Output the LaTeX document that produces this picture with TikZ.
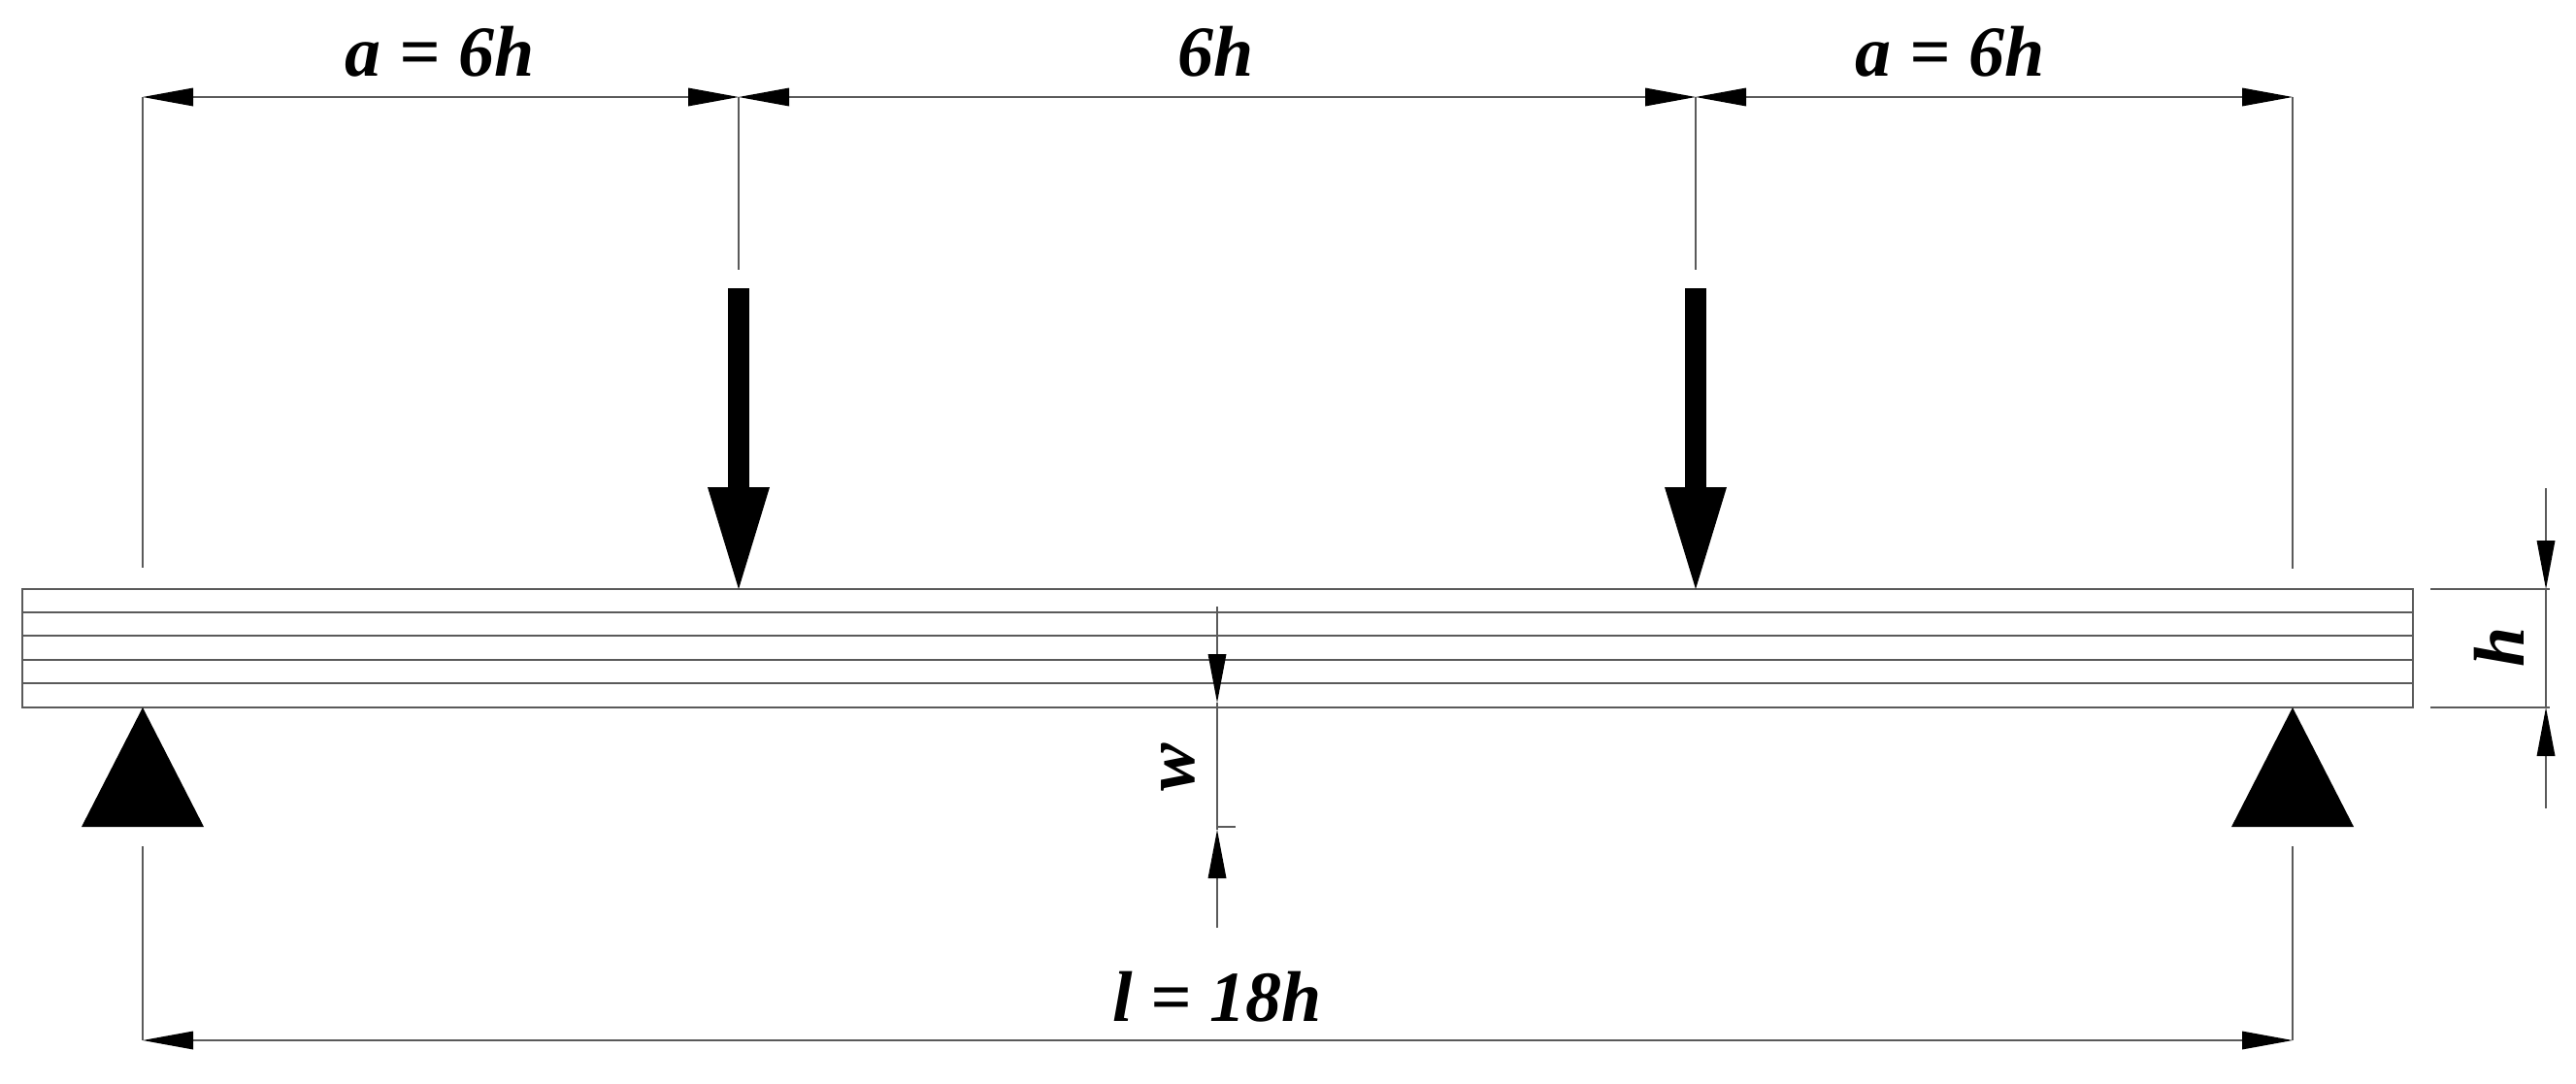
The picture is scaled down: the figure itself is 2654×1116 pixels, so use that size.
\documentclass[tikz,border=0pt]{standalone}
\usepackage{fontspec}
\setmainfont{Liberation Serif}
\usetikzlibrary{arrows.meta}
\definecolor{ln}{HTML}{5A5A5A}
\tikzset{
  thin line/.style={draw=ln,line width=2.6pt},
  dim/.style={thin line,{Triangle[length=52pt,width=19pt,line width=0pt,black]}-{Triangle[length=52pt,width=19pt,line width=0pt,black]}},
  tipend/.style={thin line,-{Triangle[length=50pt,width=19pt,line width=0pt,black]}},
  force/.style={line width=22pt,black,-{Triangle[length=105pt,width=64pt,line width=0pt,black]}},
  support/.style={fill=black,draw=none},
  lbl/.style={font=\fontsize{74}{74}\selectfont\bfseries\itshape,inner sep=0pt,anchor=base,text=black}
}
\begin{document}
\begin{tikzpicture}[x=1pt,y=-1pt]
\useasboundingbox (0,0) rectangle (2654,1116);
% key points
\coordinate (LT) at (147,100);
\coordinate (A) at (761,100);
\coordinate (B) at (1747,100);
\coordinate (RT) at (2362,100);
\coordinate (LE) at (147,585);
\coordinate (AE) at (761,278);
\coordinate (BE) at (1747,278);
\coordinate (RE) at (2362,586);
\coordinate (LB0) at (147,872);
\coordinate (RB0) at (2362,872);
\coordinate (LB) at (147,1072);
\coordinate (RB) at (2362,1072);
% beam
\foreach \y/\n in {631/a,655/b,680/c,704/d}{
  \coordinate (p\n) at (23,\y);
  \coordinate (q\n) at (2486,\y);
  \draw[thin line] (p\n) -- (q\n);
}
\coordinate (BL) at (23,607);
\coordinate (BR) at (2486,729);
\draw[thin line] (BL) rectangle (BR);
% dimensions
\draw[dim] (LT) -- (A);
\draw[dim] (A) -- (B);
\draw[dim] (B) -- (RT);
\draw[dim] (LB) -- (RB);
\draw[thin line] (LT) -- (LE);
\draw[thin line] (A) -- (AE);
\draw[thin line] (B) -- (BE);
\draw[thin line] (RT) -- (RE);
\draw[thin line] (LB0) -- (LB);
\draw[thin line] (RB0) -- (RB);
% forces
\coordinate (F1a) at (761,297);
\coordinate (F1b) at (761,607);
\coordinate (F2a) at (1747,297);
\coordinate (F2b) at (1747,607);
\draw[force] (F1a) -- (F1b);
\draw[force] (F2a) -- (F2b);
% supports
\fill[support] (147,729) -- (210,852) -- (84,852) -- cycle;
\fill[support] (2362,729) -- (2425,852) -- (2299,852) -- cycle;
% h dimension
\coordinate (h1) at (2623,503);
\coordinate (h2) at (2623,607);
\coordinate (h3) at (2623,729);
\coordinate (h4) at (2623,833);
\coordinate (e1) at (2504,607);
\coordinate (e2) at (2627,607);
\coordinate (e3) at (2504,729);
\coordinate (e4) at (2627,729);
\draw[tipend] (h1) -- (h2);
\draw[tipend] (h4) -- (h3);
\draw[thin line] (h2) -- (h3);
\draw[thin line] (e1) -- (e2);
\draw[thin line] (e3) -- (e4);
% w dimension
\coordinate (w1) at (1254,625);
\coordinate (w2) at (1254,724);
\coordinate (w3) at (1254,855);
\coordinate (w4) at (1254,956);
\coordinate (wt) at (1273,852);
\coordinate (wt0) at (1254,852);
\draw[tipend] (w1) -- (w2);
\draw[tipend] (w4) -- (w3);
\draw[thin line] (w2) -- (w3);
\draw[thin line] (wt0) -- (wt);
% labels
\node[lbl] (t1) at (453,78) {a = 6h};
\node[lbl] (t2) at (1253,78) {6h};
\node[lbl] (t3) at (2009,78) {a = 6h};
\node[lbl] (t4) at (1254,1052) {l = 18h};
\node[lbl,anchor=center,rotate=90] (t5) at (1214,791) {w};
\node[lbl,anchor=center,rotate=90] (t6) at (2575,667) {h};
\end{tikzpicture}
\end{document}
